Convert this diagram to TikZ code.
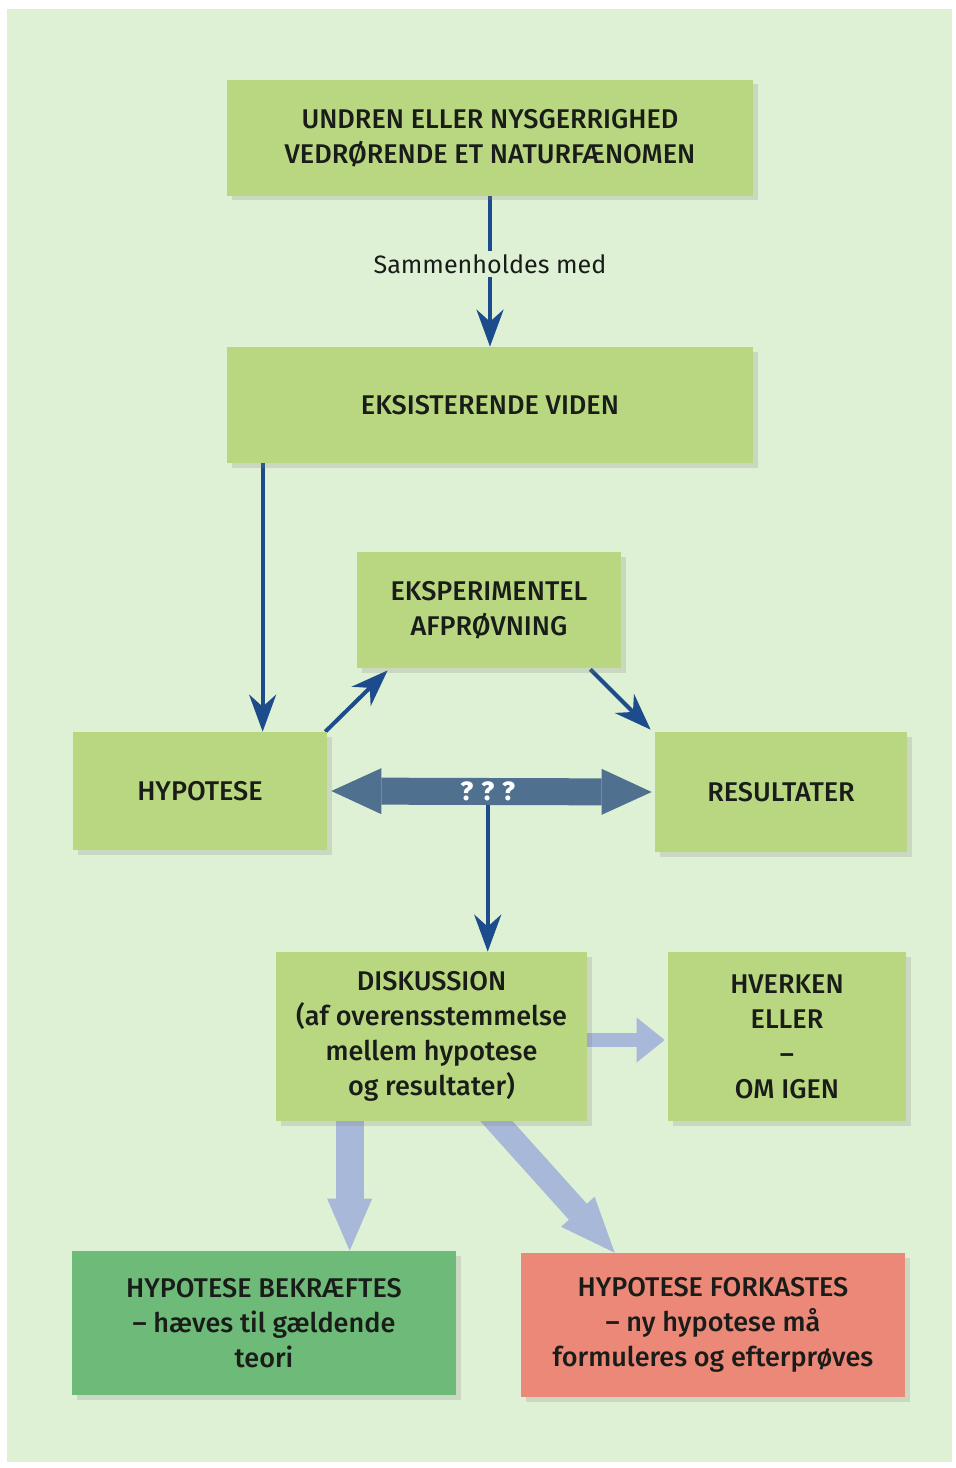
\documentclass[tikz,border=0pt]{standalone}
\usepackage{fontspec}
\setmainfont{Fira Sans}[UprightFont=* Medium]
\newfontfamily\thinfont{Fira Sans}
\usetikzlibrary{arrows.meta,shadows,calc,positioning}
\definecolor{paper}{RGB}{223,241,212}
\definecolor{leaf}{RGB}{185,215,128}
\definecolor{moss}{RGB}{110,186,120}
\definecolor{salmon}{RGB}{235,136,120}
\definecolor{ink}{RGB}{28,76,140}
\definecolor{slate}{RGB}{80,112,143}
\definecolor{haze}{RGB}{168,184,216}
\definecolor{txt}{RGB}{25,28,25}
\pgfdeclarelayer{paperlayer}
\pgfdeclarelayer{arrowlayer}
\pgfsetlayers{paperlayer,arrowlayer,main}

\begin{document}
\begin{tikzpicture}[
	greenbox/.style={rectangle, fill=leaf, inner sep=0pt, align=center, text=txt,
		font=\fontsize{15.4}{19.9}\selectfont,
		drop shadow={shadow xshift=0.09cm, shadow yshift=-0.09cm, opacity=0.22}},
	darkarrow/.style={draw=ink, line width=0.08cm, -{Stealth[length=0.74cm,width=0.54cm,inset=0.24cm]}},
	lightarrow/.style={draw=haze, -{Triangle[length=#1,width=0.9cm,line width=0pt]}},
	]
			%%%%% START %%%%%
			\useasboundingbox (0, 0) rectangle (19.12, -29.36);
			\begin{pgfonlayer}{paperlayer}
				\fill[white] (0, 0) rectangle (19.12, -29.36);
				\fill[paper] (0.14, -0.18) rectangle (19.04, -29.24);
			\end{pgfonlayer}
			
			\node[greenbox, minimum width=10.52cm, minimum height=2.32cm] (undren) at (9.8, -2.76) {UNDREN ELLER NYSGERRIGHED\\VEDRØRENDE ET NATURFÆNOMEN};
			\node[greenbox, minimum width=10.52cm, minimum height=2.32cm] (viden) at (9.8, -8.1) {EKSISTERENDE VIDEN};
			\node[greenbox, minimum width=5.28cm, minimum height=2.32cm] (eksp) at (9.78, -12.2) {EKSPERIMENTEL\\AFPRØVNING};
			\node[greenbox, minimum width=5.08cm, minimum height=2.36cm] (hyp) at (4.0, -15.82) {HYPOTESE};
			\node[greenbox, minimum width=5.04cm, minimum height=2.4cm] (res) at (15.62, -15.84) {RESULTATER};
			\node[greenbox, minimum width=6.22cm, minimum height=3.38cm] (disk) at (8.63, -20.73) {DISKUSSION\\(af overensstemmelse\\mellem hypotese\\og resultater)};
			\node[greenbox, minimum width=4.76cm, minimum height=3.38cm] (hverken) at (15.74, -20.73) {HVERKEN\\ELLER\\–\\OM IGEN};
			\node[greenbox, fill=moss, minimum width=7.68cm, minimum height=2.88cm] (bekr) at (5.28, -26.46) {HYPOTESE BEKRÆFTES\\– hæves til gældende\\teori};
			\node[greenbox, fill=salmon, minimum width=7.68cm, minimum height=2.88cm] (fork) at (14.26, -26.5) {HYPOTESE FORKASTES\\– ny hypotese må\\formuleres og efterprøves};
			
			\begin{pgfonlayer}{arrowlayer}
				\draw[darkarrow] (undren.south) -- (viden.north)
					node[pos=0.45, fill=paper, text=txt, inner sep=2pt, font=\thinfont\fontsize{14.3}{16}\selectfont] (samlabel) {Sammenholdes med};
				\draw[darkarrow] ([xshift=0.72cm]viden.south west) -- ([xshift=0.72cm]viden.south west |- hyp.north);
				\draw[darkarrow] ([xshift=-0.04cm]hyp.north east) -- ([xshift=0.62cm, yshift=-0.04cm]eksp.south west);
				\draw[darkarrow] ([xshift=-0.62cm, yshift=-0.02cm]eksp.south east) -- ([xshift=-0.08cm, yshift=0.04cm]res.north west);
				\coordinate (qmid) at ($(hyp.east)!0.49!(res.west)$);
				\draw[darkarrow] (qmid) -- (qmid |- disk.north);
				
				\draw[lightarrow=0.56cm, line width=0.28cm] ([yshift=-0.07cm]disk.east) -- ([xshift=-0.06cm, yshift=-0.07cm]hverken.west);
				\draw[lightarrow=1.04cm, line width=0.56cm] ([xshift=1.48cm]disk.south west) -- ([xshift=1.48cm]disk.south west |- bekr.north);
				\draw[lightarrow=1.1cm, line width=0.48cm] ([xshift=4.24cm, yshift=0.2cm]disk.south west) -- ([xshift=1.88cm]fork.north west);
			\end{pgfonlayer}
			
			\draw[draw=slate, line width=0.54cm, {Triangle[length=1.0cm,width=0.92cm,line width=0pt]}-{Triangle[length=1.0cm,width=0.92cm,line width=0pt]}] ([xshift=0.08cm]hyp.east) -- ([xshift=-0.06cm]res.west);
			\node[text=white, font=\bfseries\fontsize{15}{17}\selectfont] (qlabel) at (qmid) {? ? ?};
			
			%%%%% END %%%%%
\end{tikzpicture}
\end{document}
